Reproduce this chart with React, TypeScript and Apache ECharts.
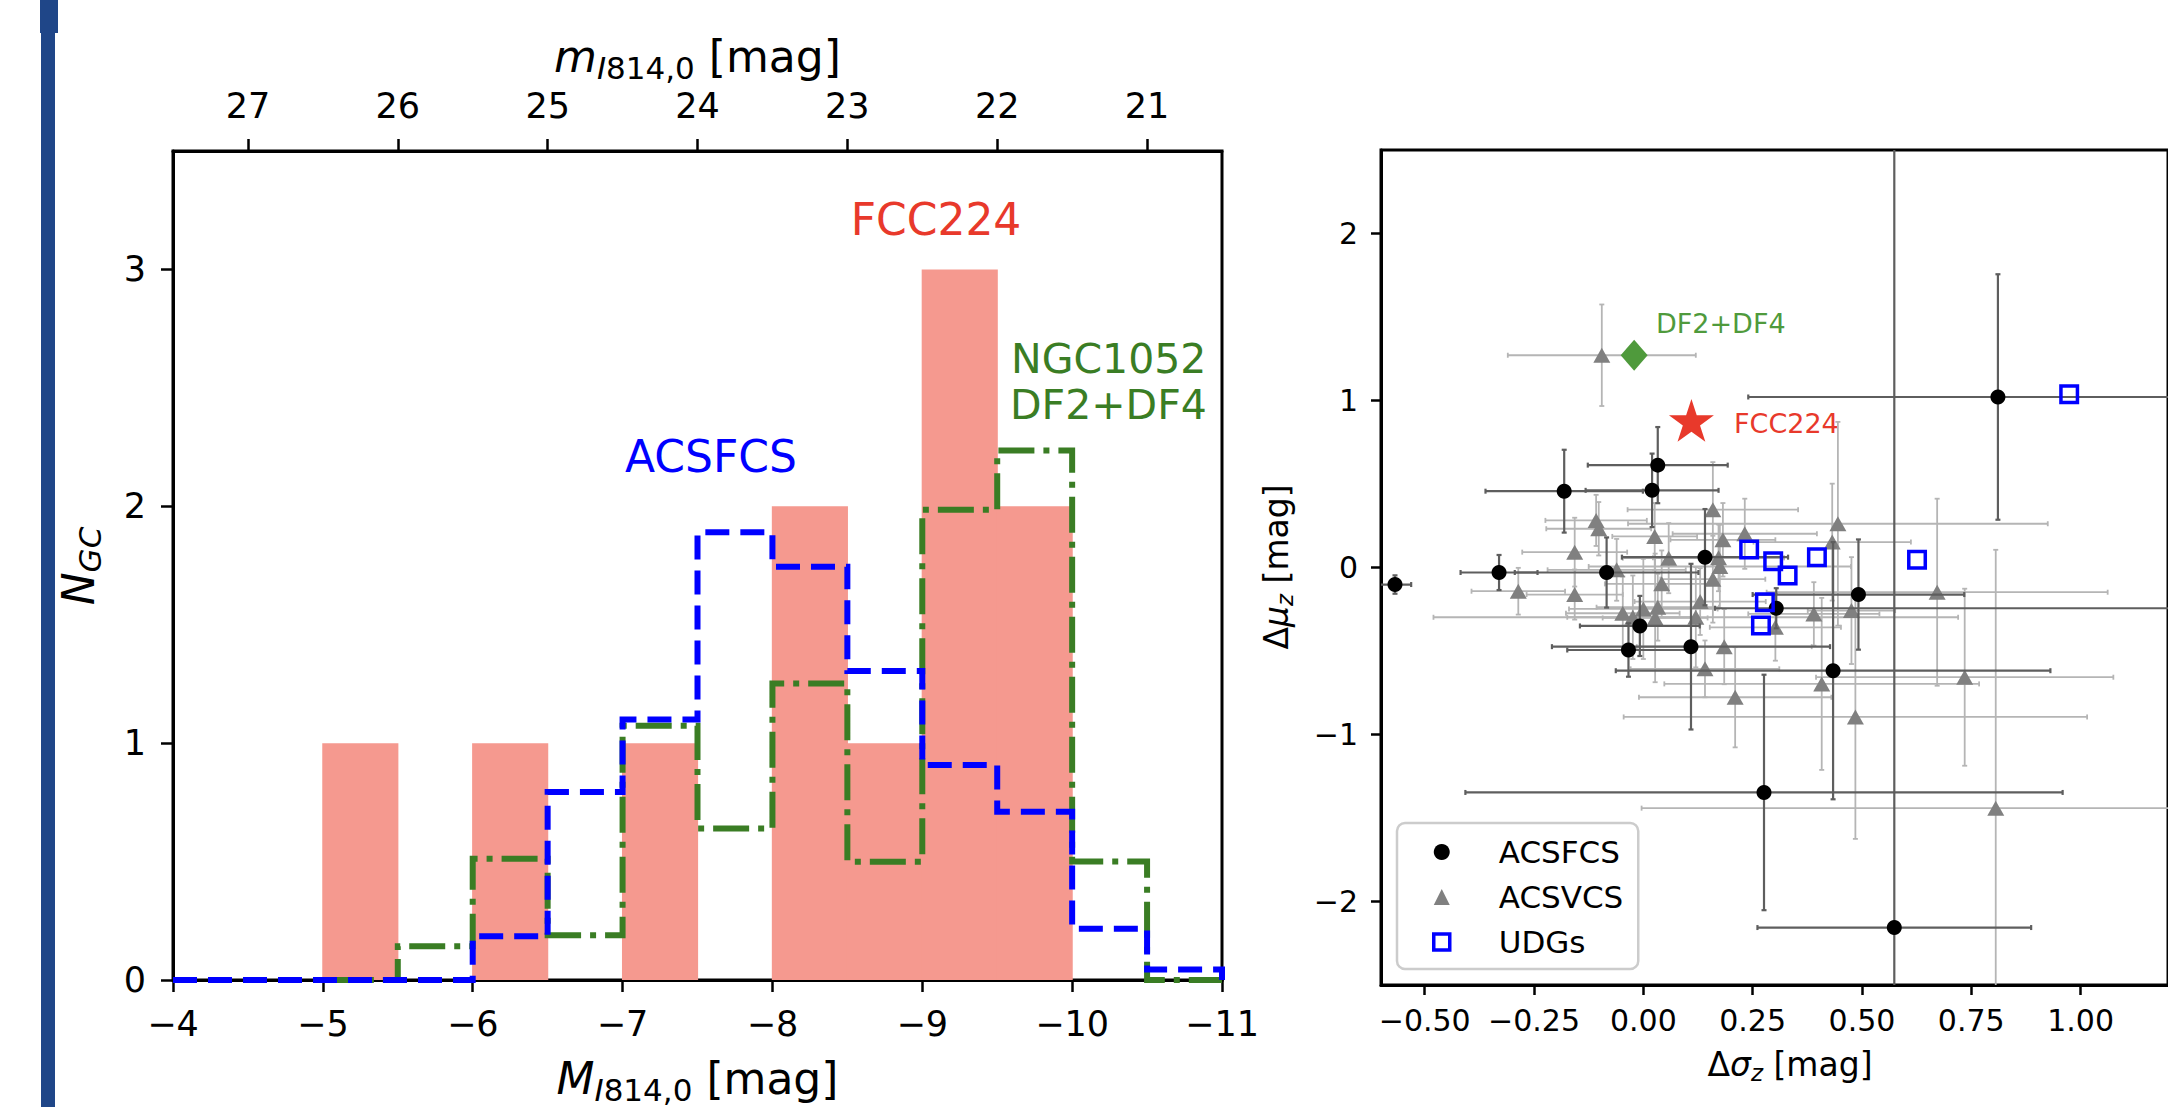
import React, { useEffect, useRef } from "react";
import * as echarts from "echarts";

const FONT = "'DejaVu Sans', 'Noto Sans', sans-serif";

// ---------------- Left panel: GC luminosity function ----------------
const binEdges = [-4, -4.5, -5, -5.5, -6, -6.5, -7, -7.5, -8, -8.5, -9, -9.5, -10, -10.5, -11];
const fcc224Counts = [0, 0, 1, 0, 1, 0, 1, 0, 2, 1, 3, 2, 0, 0];
const acsfcsHist = [0, 0, 0, 0, 0.185, 0.794, 1.1, 1.89, 1.745, 1.305, 0.908, 0.71, 0.216, 0.044];
const ngc1052Hist = [null, null, 0, 0.142, 0.512, 0.189, 1.073, 0.64, 1.252, 0.499, 1.985, 2.236, 0.5, 0];
const absMagTicks = [-4, -5, -6, -7, -8, -9, -10, -11];
const appMagTicks = [27, 26, 25, 24, 23, 22, 21];
const countTicks = [0, 1, 2, 3];

// ---------------- Right panel: delta sigma vs delta mu ----------------
const acsfcsDSigma = [-0.568, -0.33, -0.181, 0.02, 0.033, -0.084, 0.141, -0.008, -0.034, 0.109, 0.304, 0.492, 0.434, 0.811, 0.276, 0.574];
const acsfcsDMu = [-0.102, -0.03, 0.457, 0.462, 0.613, -0.03, 0.062, -0.35, -0.494, -0.474, -0.244, -0.162, -0.618, 1.021, -1.347, -2.156];
const acsfcsSigmaErr: (number | number[])[] = [0.037, 0.088, 0.18, 0.152, 0.16, 0.21, 0.19, 0.137, 0.14, 0.318, [0.14, 1.2], 0.242, 0.497, 0.571, 0.683, 0.313];
const acsfcsMuErr: (number | number[])[] = [0.055, 0.105, 0.248, 0.22, 0.228, 0.21, 0.288, 0.18, 0.16, 0.496, 0.12, 0.33, 0.77, 0.735, 0.705, 4.8];

const acsvcsDSigma = [-0.095, -0.286, -0.157, -0.157, -0.108, -0.102, -0.061, -0.047, -0.024, 0.0, 0.026, 0.033, 0.027, 0.042, 0.058, 0.13, 0.12, 0.159, 0.182, 0.172, 0.175, 0.159, 0.232, 0.185, 0.141, 0.21, 0.302, 0.445, 0.432, 0.476, 0.39, 0.672, 0.408, 0.735, 0.485, 0.806];
const acsvcsDMu = [1.271, -0.142, 0.092, -0.162, 0.282, 0.232, -0.014, -0.274, -0.298, -0.248, 0.186, -0.238, -0.302, -0.098, 0.056, -0.204, -0.298, 0.346, 0.166, 0.058, 0.006, -0.07, 0.202, -0.474, -0.607, -0.777, -0.358, 0.262, 0.152, -0.258, -0.278, -0.148, -0.697, -0.657, -0.895, -1.441];
const acsvcsSigmaErr: (number | number[])[] = [0.215, 0.107, 0.12, 0.11, 0.116, 0.12, 0.158, 0.13, 0.15, 0.17, 0.097, 0.14, 0.12, 0.13, 0.105, 0.15, 0.6, 0.195, 0.12, 0.15, 0.3, 0.12, 0.165, 0.2, 0.17, 0.22, 0.15, 0.48, 0.18, 0.1, 0.15, 0.39, 0.36, 0.34, 0.53, 0.81];
const acsvcsMuErr: (number | number[])[] = [0.304, 0.14, 0.206, 0.15, 0.153, 0.16, 0.185, 0.22, 0.25, 0.3, 0.2, 0.2, 0.385, 0.2, 0.21, 0.2, 0.3, 0.285, 0.22, 0.2, 0.25, 0.26, 0.21, 0.225, 0.17, 0.3, 0.2, 0.61, 0.35, 0.32, 0.19, 0.56, 0.515, 0.53, 0.73, 1.547];

const udgDSigma = [0.242, 0.297, 0.33, 0.397, 0.626, 0.278, 0.269, 0.974];
const udgDMu = [0.108, 0.038, -0.048, 0.062, 0.046, -0.208, -0.348, 1.037];

const df2df4Point = [-0.021, 1.271];
const fcc224Point = [0.11, 0.881];

const sigmaTicks = [-0.5, -0.25, 0, 0.25, 0.5, 0.75, 1.0];
const muTicks = [-2, -1, 0, 1, 2];

// ---------------- helpers ----------------
function stepPoints(edges: number[], vals: (number | null)[]) {
  const pts: number[][] = [];
  let started = false;
  let last = 0;
  for (let i = 0; i < vals.length; i++) {
    const v = vals[i];
    if (v == null) continue;
    if (!started) {
      pts.push([edges[i], 0]);
      started = true;
    }
    pts.push([edges[i], v]);
    pts.push([edges[i + 1], v]);
    last = i;
  }
  pts.push([edges[last + 1], 0]);
  return pts;
}

function errData(xs: number[], ys: number[], xe: (number | number[])[], ye: (number | number[])[]) {
  return xs.map((x, i) => {
    const ex = Array.isArray(xe[i]) ? (xe[i] as number[]) : [xe[i] as number, xe[i] as number];
    const ey = Array.isArray(ye[i]) ? (ye[i] as number[]) : [ye[i] as number, ye[i] as number];
    return [x, ys[i], x - ex[0], x + ex[1], ys[i] - ey[0], ys[i] + ey[1]];
  });
}

const errRender = (color: string, width: number) => (params: any, api: any) => {
  const x = api.value(0);
  const y = api.value(1);
  const c = api.coord([x, y]);
  const l = api.coord([api.value(2), y]);
  const r = api.coord([api.value(3), y]);
  const b = api.coord([x, api.value(4)]);
  const t = api.coord([x, api.value(5)]);
  const st = { stroke: color, lineWidth: width };
  const cap = 2.5;
  const ln = (x1: number, y1: number, x2: number, y2: number) => ({
    type: "line",
    shape: { x1, y1, x2, y2 },
    style: st,
  });
  return {
    type: "group",
    children: [
      ln(l[0], c[1], r[0], c[1]),
      ln(c[0], b[1], c[0], t[1]),
      ln(l[0], c[1] - cap, l[0], c[1] + cap),
      ln(r[0], c[1] - cap, r[0], c[1] + cap),
      ln(c[0] - cap, b[1], c[0] + cap, b[1]),
      ln(c[0] - cap, t[1], c[0] + cap, t[1]),
    ],
  };
};

function starPath() {
  const pts: string[] = [];
  for (let i = 0; i < 10; i++) {
    const r = i % 2 === 0 ? 1 : 0.382;
    const a = -Math.PI / 2 + (i * Math.PI) / 5;
    pts.push(`${(r * Math.cos(a)).toFixed(4)} ${(r * Math.sin(a)).toFixed(4)}`);
  }
  return "path://M" + pts.join(" L") + " Z";
}

const minusFmt = (digits: number) => (v: number) => {
  const s = Math.abs(v).toFixed(digits);
  return (v < -1e-9 ? "\u2212" : "") + s;
};

let measureCtx: CanvasRenderingContext2D | null = null;
function tw(text: string, size: number, italic?: boolean) {
  if (!measureCtx) measureCtx = document.createElement("canvas").getContext("2d");
  if (!measureCtx) return text.length * size * 0.6;
  measureCtx.font = `${italic ? "italic " : ""}${size}px 'DejaVu Sans'`;
  return measureCtx.measureText(text).width;
}

type Part = { t: string; s: number; i?: boolean; dy?: number };
function mathLabel(parts: Part[], x: number, y: number, color: string, rotation = 0, align = "center") {
  const widths = parts.map((p) => tw(p.t, p.s, p.i));
  const total = widths.reduce((a, b) => a + b, 0);
  let cx = align === "center" ? -total / 2 : align === "left" ? 0 : -total;
  const children = parts.map((p, k) => {
    const el = {
      type: "text",
      x: cx,
      y: (p.dy || 0) - 0.346 * p.s,
      style: {
        text: p.t,
        fontSize: p.s,
        fontFamily: FONT,
        fontStyle: p.i ? "italic" : "normal",
        fill: color,
        align: "left",
        textAlign: "left",
        verticalAlign: "middle",
        textVerticalAlign: "middle",
      },
    };
    cx += widths[k];
    return el;
  });
  return { type: "group", x, y, rotation, children, silent: true };
}

function axisCommon(ticks: number[], fmt: (v: number) => string, fontSize: number, margin: number, tickLen: number) {
  return {
    type: "value",
    axisLine: { show: true, onZero: false, lineStyle: { color: "#000", width: 3 } },
    axisTick: { show: true, inside: false, length: tickLen, lineStyle: { color: "#000", width: 2.5 }, customValues: ticks },
    axisLabel: { show: true, customValues: ticks, formatter: fmt, fontSize, fontFamily: FONT, color: "#000", margin },
    splitLine: { show: false },
  };
}

export default function App() {
  const ref = useRef<HTMLDivElement>(null);

  useEffect(() => {
    document.body.style.margin = "0";
    if (!ref.current) return;
    const chart = echarts.init(ref.current, undefined, { renderer: "svg" });

    const fccBars = binEdges
      .slice(0, -1)
      .map((e, i) => [e, binEdges[i + 1], fcc224Counts[i]])
      .filter((d) => d[2] > 0);

    const RED = "#e8392b";
    const GREEN_L = "#3a7d24";
    const GREEN_R = "#4f9a3c";
    const BLUE = "#0000ff";

    const graphic: any[] = [
      { type: "rect", shape: { x: 41, y: 0, width: 14, height: 1107 }, style: { fill: "#1f4688" }, silent: true },
      { type: "rect", shape: { x: 40, y: 0, width: 18, height: 33 }, style: { fill: "#1f4688" }, silent: true },
      // axis titles
      mathLabel(
        [
          { t: "m", s: 44, i: true },
          { t: "I", s: 31, i: true, dy: 7 },
          { t: "814,0", s: 31, dy: 7 },
          { t: " [mag]", s: 44 },
        ],
        697.5,
        72,
        "#000"
      ),
      mathLabel(
        [
          { t: "M", s: 44, i: true },
          { t: "I", s: 31, i: true, dy: 7 },
          { t: "814,0", s: 31, dy: 7 },
          { t: " [mag]", s: 44 },
        ],
        697.5,
        1094,
        "#000"
      ),
      mathLabel(
        [
          { t: "N", s: 44, i: true },
          { t: "GC", s: 31, i: true, dy: 7 },
        ],
        94,
        566,
        "#000",
        Math.PI / 2
      ),
      mathLabel(
        [
          { t: "\u0394", s: 33 },
          { t: "\u03c3", s: 33, i: true },
          { t: "z", s: 23, i: true, dy: 5 },
          { t: " [mag]", s: 33 },
        ],
        1790,
        1076,
        "#000"
      ),
      mathLabel(
        [
          { t: "\u0394", s: 33 },
          { t: "\u03bc", s: 33, i: true },
          { t: "z", s: 23, i: true, dy: 5 },
          { t: " [mag]", s: 33 },
        ],
        1288,
        567,
        "#000",
        Math.PI / 2
      ),
      // left panel annotations
      mathLabel([{ t: "ACSFCS", s: 44 }], 711, 471.5, BLUE),
      mathLabel([{ t: "FCC224", s: 44 }], 936, 235, RED),
      mathLabel([{ t: "NGC1052", s: 41 }], 1011, 373, GREEN_L, 0, "left"),
      mathLabel([{ t: "DF2+DF4", s: 41 }], 1010, 419, GREEN_L, 0, "left"),
      // right panel annotations
      mathLabel([{ t: "DF2+DF4", s: 27 }], 1656, 333, GREEN_R, 0, "left"),
      mathLabel([{ t: "FCC224", s: 27 }], 1734, 433, RED, 0, "left"),
    ];

    const option: any = {
      animation: false,
      backgroundColor: "#ffffff",
      textStyle: { fontFamily: FONT },
      grid: [
        { left: 173, top: 151, width: 1049, height: 829, show: true, borderColor: "#000", borderWidth: 3, backgroundColor: "transparent" },
        { left: 1381, top: 150, width: 819, height: 835, show: true, borderColor: "#000", borderWidth: 3, backgroundColor: "transparent" },
      ],
      xAxis: [
        { ...axisCommon(absMagTicks, minusFmt(0), 35, 26, 12), gridIndex: 0, position: "bottom", min: -11, max: -4, inverse: true },
        { ...axisCommon(appMagTicks, minusFmt(0), 35, 28, 12), gridIndex: 0, position: "top", min: 20.5, max: 27.5, inverse: true },
        { ...axisCommon(sigmaTicks, minusFmt(2), 30, 20, 10), gridIndex: 1, position: "bottom", min: -0.6, max: 1.2 },
      ],
      yAxis: [
        { ...axisCommon(countTicks, minusFmt(0), 35, 27, 12), gridIndex: 0, position: "left", min: 0, max: 3.5 },
        { ...axisCommon(muTicks, minusFmt(0), 30, 23, 10), gridIndex: 1, position: "left", min: -2.5, max: 2.5 },
      ],
      legend: {
        data: [
          { name: "ACSFCS", icon: "circle", itemStyle: { color: "#000000", opacity: 1 } },
          { name: "ACSVCS", icon: "triangle", itemStyle: { color: "#808080", opacity: 1 } },
          { name: "UDGs", icon: "rect", itemStyle: { color: "rgba(255,255,255,0)", borderColor: BLUE, borderWidth: 3.5, opacity: 1 } },
        ],
        orient: "vertical",
        left: 1397,
        top: 823,
        itemWidth: 16,
        itemHeight: 16,
        itemGap: 9,
        padding: [11, 15, 9, 35],
        backgroundColor: "#ffffff",
        borderColor: "#cccccc",
        borderWidth: 2.5,
        borderRadius: 8,
        selectedMode: false,
        textStyle: { fontSize: 31, fontFamily: FONT, color: "#000", padding: [0, 0, 0, 44], lineHeight: 36 },
      },
      graphic,
      series: [
        {
          type: "custom",
          name: "FCC224 hist",
          xAxisIndex: 0,
          yAxisIndex: 0,
          data: fccBars,
          encode: { x: [0, 1], y: 2 },
          silent: true,
          z: 1,
          renderItem: (params: any, api: any) => {
            const a = api.coord([api.value(0), api.value(2)]);
            const b = api.coord([api.value(1), 0]);
            return {
              type: "rect",
              shape: {
                x: Math.min(a[0], b[0]) - 0.6,
                y: Math.min(a[1], b[1]),
                width: Math.abs(b[0] - a[0]) + 1.2,
                height: Math.abs(b[1] - a[1]),
              },
              style: { fill: "#f5998f" },
            };
          },
        },
        {
          type: "line",
          name: "NGC1052 hist",
          xAxisIndex: 0,
          yAxisIndex: 0,
          data: stepPoints(binEdges, ngc1052Hist),
          showSymbol: false,
          symbol: "none",
          clip: false,
          silent: true,
          z: 3,
          lineStyle: { color: GREEN_L, width: 6, type: [36, 9, 6, 9], cap: "butt", join: "miter" },
        },
        {
          type: "line",
          name: "ACSFCS hist",
          xAxisIndex: 0,
          yAxisIndex: 0,
          data: stepPoints(binEdges, acsfcsHist),
          showSymbol: false,
          symbol: "none",
          clip: false,
          silent: true,
          z: 4,
          lineStyle: { color: BLUE, width: 6, type: [24, 11], cap: "butt", join: "miter" },
        },
        {
          type: "custom",
          name: "ACSVCS err",
          xAxisIndex: 2,
          yAxisIndex: 1,
          data: errData(acsvcsDSigma, acsvcsDMu, acsvcsSigmaErr, acsvcsMuErr),
          encode: { x: 0, y: 1 },
          clip: true,
          silent: true,
          z: 2,
          renderItem: errRender("#b5b5b5", 1.8),
        },
        {
          type: "scatter",
          name: "ACSVCS",
          xAxisIndex: 2,
          yAxisIndex: 1,
          data: acsvcsDSigma.map((x, i) => [x, acsvcsDMu[i]]),
          symbol: "triangle",
          symbolSize: [17, 15],
          itemStyle: { color: "#808080", opacity: 1 },
          z: 3,
        },
        {
          type: "custom",
          name: "ACSFCS err",
          xAxisIndex: 2,
          yAxisIndex: 1,
          data: errData(acsfcsDSigma, acsfcsDMu, acsfcsSigmaErr, acsfcsMuErr),
          encode: { x: 0, y: 1 },
          clip: true,
          silent: true,
          z: 4,
          renderItem: errRender("#5e5e5e", 2.2),
        },
        {
          type: "scatter",
          name: "ACSFCS",
          xAxisIndex: 2,
          yAxisIndex: 1,
          data: acsfcsDSigma.map((x, i) => [x, acsfcsDMu[i]]),
          symbol: "circle",
          symbolSize: 15,
          itemStyle: { color: "#000000", opacity: 1 },
          z: 5,
        },
        {
          type: "scatter",
          name: "UDGs",
          xAxisIndex: 2,
          yAxisIndex: 1,
          data: udgDSigma.map((x, i) => [x, udgDMu[i]]),
          symbol: "rect",
          symbolSize: 16.5,
          itemStyle: { color: "rgba(255,255,255,0)", borderColor: BLUE, borderWidth: 3.5, opacity: 1 },
          z: 6,
        },
        {
          type: "scatter",
          name: "DF2+DF4",
          xAxisIndex: 2,
          yAxisIndex: 1,
          data: [df2df4Point],
          symbol: "diamond",
          symbolSize: [27, 31],
          itemStyle: { color: GREEN_R, opacity: 1 },
          z: 7,
        },
        {
          type: "scatter",
          name: "FCC224",
          xAxisIndex: 2,
          yAxisIndex: 1,
          data: [fcc224Point],
          symbol: starPath(),
          symbolKeepAspect: true,
          symbolSize: 45,
          itemStyle: { color: RED, opacity: 1 },
          z: 8,
        },
      ],
    };

    chart.setOption(option);
    return () => {
      chart.dispose();
    };
  }, []);

  return <div ref={ref} style={{ width: 2168, height: 1107 }} />;
}
